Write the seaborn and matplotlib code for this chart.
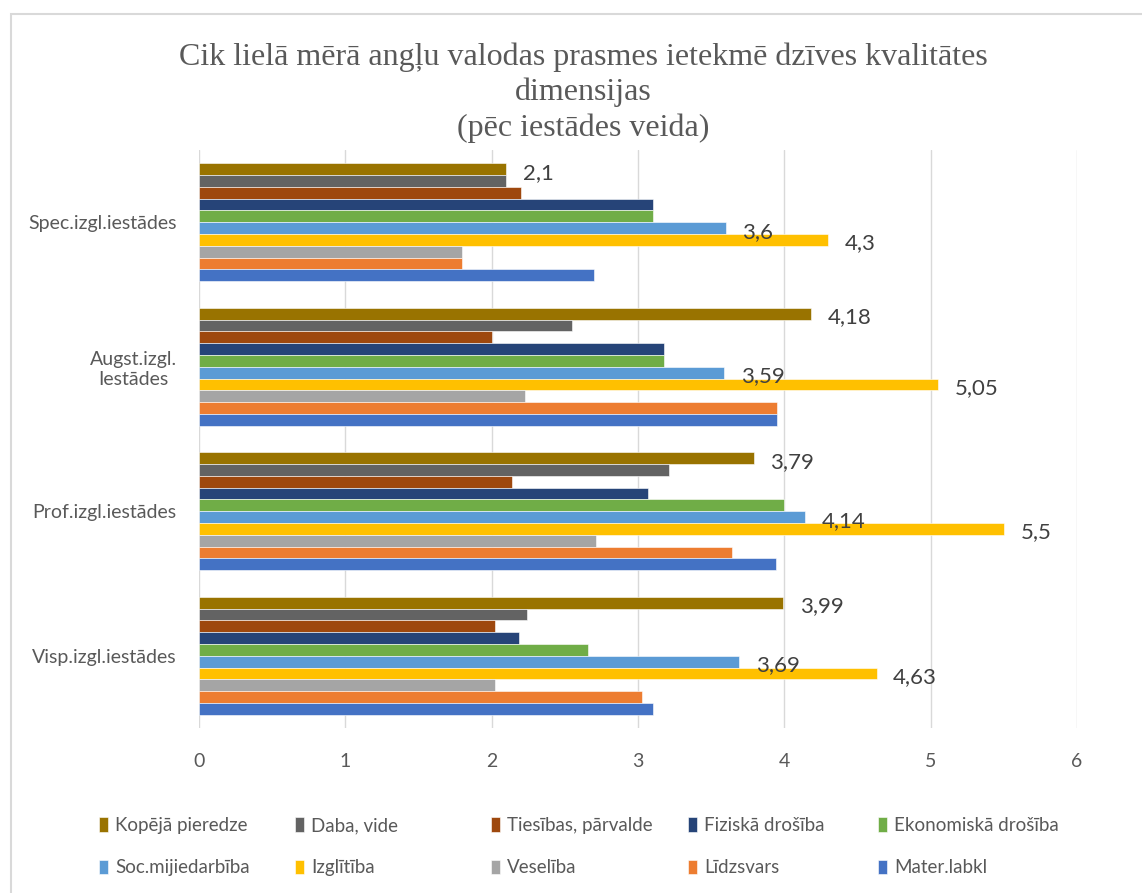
import matplotlib
matplotlib.use("Agg")
import matplotlib.pyplot as plt
from matplotlib.patches import Rectangle
import seaborn as sns
import pandas as pd

# Institution types (top to bottom)
iestades = ["Spec.izgl.iestādes", "Augst.izgl.\nIestādes", "Prof.izgl.iestādes", "Visp.izgl.iestādes"]

# Quality-of-life dimensions (series), drawn top to bottom inside each group
dimensijas = ["Kopējā pieredze", "Daba, vide", "Tiesības, pārvalde", "Fiziskā drošība",
              "Ekonomiskā drošība", "Soc.mijiedarbība", "Izglītība", "Veselība",
              "Līdzsvars", "Mater.labkl"]

# Values per dimension, in the order of `iestades`
kopeja_pieredze = [2.10, 4.18, 3.79, 3.99]
daba_vide = [2.10, 2.55, 3.21, 2.24]
tiesibas_parvalde = [2.20, 2.00, 2.14, 2.02]
fiziska_drosiba = [3.10, 3.18, 3.07, 2.19]
ekonomiska_drosiba = [3.10, 3.18, 4.00, 2.66]
soc_mijiedarbiba = [3.60, 3.59, 4.14, 3.69]
izglitiba = [4.30, 5.05, 5.50, 4.63]
veseliba = [1.80, 2.23, 2.71, 2.02]
lidzsvars = [1.80, 3.95, 3.64, 3.03]
mater_labkl = [2.70, 3.95, 3.94, 3.10]

series = [kopeja_pieredze, daba_vide, tiesibas_parvalde, fiziska_drosiba,
          ekonomiska_drosiba, soc_mijiedarbiba, izglitiba, veseliba,
          lidzsvars, mater_labkl]

# Series carrying value labels
labeled = {"Kopējā pieredze", "Soc.mijiedarbība", "Izglītība"}

colors = ["#997300", "#636363", "#9E480E", "#264478", "#70AD47",
          "#5B9BD5", "#FFC000", "#A5A5A5", "#ED7D31", "#4472C4"]

x_ticks = [0, 1, 2, 3, 4, 5, 6]

rows = []
for name, vals in zip(dimensijas, series):
    for cat, v in zip(iestades, vals):
        rows.append({"iestade": cat, "dimensija": name, "vertiba": v})
df = pd.DataFrame(rows)

sns.set_theme(style="white")
plt.rcParams["font.family"] = ["Lato", "DejaVu Sans"]

W, H = 1142, 893
fig = plt.figure(figsize=(W / 100, H / 100), dpi=100)
fig.patch.set_facecolor("white")

ax = fig.add_axes([199 / W, 1 - 728 / H, (1077 - 199) / W, (728 - 150) / H])

sns.barplot(data=df, y="iestade", x="vertiba", hue="dimensija",
            order=iestades, hue_order=dimensijas, palette=colors,
            orient="h", width=0.815, saturation=1, errorbar=None,
            edgecolor="white", linewidth=0.4, ax=ax, legend=True)

handles, labels = ax.get_legend_handles_labels()
ax.get_legend().remove()

# Value labels
for name, vals, cont in zip(dimensijas, series, ax.containers):
    if name not in labeled:
        continue
    for bar, v in zip(cont, vals):
        ax.annotate(f"{v:g}".replace(".", ","),
                    xy=(bar.get_width(), bar.get_y() + bar.get_height() / 2),
                    xytext=(12, -2.5), textcoords="offset points",
                    ha="left", va="center", fontsize=16, color="#404040")

ax.set_xlim(0, 6)
ax.set_ylim(3.5, -0.5)
ax.set_xticks(x_ticks)
ax.set_xticklabels([str(t) for t in x_ticks])
ax.set_xlabel("")
ax.set_ylabel("")
ax.grid(axis="x", color="#D9D9D9", linewidth=1.0)
ax.set_axisbelow(True)
for s in ax.spines.values():
    s.set_visible(False)
ax.tick_params(axis="x", length=0, pad=18, labelsize=14, labelcolor="#595959")
ax.tick_params(axis="y", length=0, pad=16, labelsize=14, labelcolor="#595959")
for t in ax.get_yticklabels():
    t.set_multialignment("center")

# Title
fig.text(583 / W, 1 - 42 / H,
         "Cik lielā mērā angļu valodas prasmes ietekmē dzīves kvalitātes\ndimensijas\n(pēc iestādes veida)",
         ha="center", va="top", fontsize=23, color="#595959",
         family=["Liberation Serif", "DejaVu Serif"], linespacing=1.27)

# Legend: five columns, two rows
col_x = [99, 295, 491, 688, 878]
for i, cx in enumerate(col_x):
    fig.legend([handles[i], handles[i + 5]], [labels[i], labels[i + 5]],
               loc="upper left", bbox_to_anchor=(cx / W, 1 - 817 / H),
               frameon=False, fontsize=13.5, labelcolor="#595959",
               handlelength=0.5, handleheight=0.8, handletextpad=0.35,
               labelspacing=1.35, borderpad=0, borderaxespad=0)

# Chart frame
fig.add_artist(Rectangle((11 / W, -0.05), 1.2, 1 - 14 / H + 0.05,
                         transform=fig.transFigure, fill=False,
                         edgecolor="#D9D9D9", linewidth=1.5))

fig.savefig("out.png", dpi=100, facecolor="white")
